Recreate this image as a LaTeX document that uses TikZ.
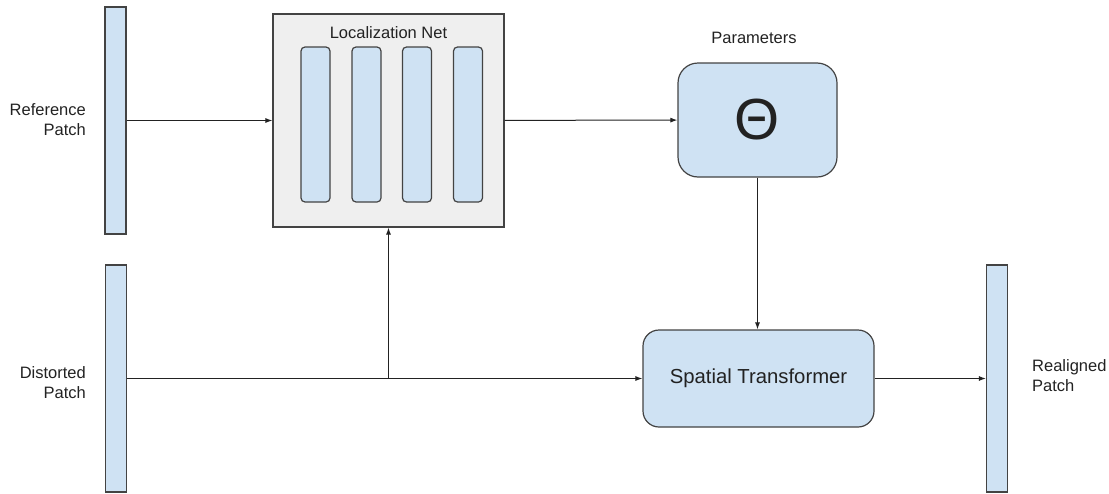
\documentclass[tikz,border=0pt]{standalone}
\usepackage{fontspec}
\setmainfont{Liberation Sans}
\usetikzlibrary{arrows.meta}
\definecolor{patchblue}{HTML}{CFE2F3}
\definecolor{netgray}{HTML}{EFEFEF}
\definecolor{edge}{HTML}{434343}
\definecolor{ink}{HTML}{222222}
\tikzset{
  patch/.style={draw=edge, fill=patchblue, line width=1.2pt, inner sep=0pt, minimum width=21pt, minimum height=227pt},
  layer/.style={draw=edge, fill=patchblue, line width=1.2pt, rounded corners=4pt, inner sep=0pt, minimum width=29pt, minimum height=155pt},
  netbox/.style={draw=edge, fill=netgray, line width=1.2pt, inner sep=0pt, minimum width=231pt, minimum height=213pt},
  block/.style={draw=edge, fill=patchblue, line width=1.2pt, inner sep=0pt, text=ink},
  lbl/.style={text=ink, font=\fontsize{16.5}{20}\selectfont, inner sep=0pt},
  arr/.style={draw=ink, line width=1pt, -{Latex[length=7pt,width=5pt]}},
  wire/.style={draw=ink, line width=1pt}
}
\begin{document}
\begin{tikzpicture}[x=1pt, y=-1pt]
\useasboundingbox (0,0) rectangle (1109,493);

% input and output patches
\node[patch] (ref)  at (115.5,120.5) {};
\node[patch] (dist) at (116,378.5) {};
\node[patch] (real) at (997,378.5) {};

% localization network with its four layers
\node[netbox] (loc) at (388.5,120.5) {};
\node[lbl] (loctitle) at (388.5,33) {Localization Net};
\node[layer] (l1) at (315.5,124.5) {};
\node[layer] (l2) at (366.5,124.5) {};
\node[layer] (l3) at (417,124.5) {};
\node[layer] (l4) at (468,124.5) {};

% transformation parameters
\node[lbl] (partitle) at (754,38) {Parameters};
\node[block, rounded corners=20pt, minimum width=159pt, minimum height=114pt,
      font=\fontsize{58}{60}\selectfont] (theta) at (757.5,120) {Θ};

% spatial transformer
\node[block, rounded corners=16pt, minimum width=231pt, minimum height=97pt,
      font=\fontsize{20.3}{24}\selectfont] (st) at (758.5,378.5) {Spatial Transformer};

% side labels
\node[lbl, anchor=east, align=right] (reflbl) at (86,120) {Reference\\Patch};
\node[lbl, anchor=east, align=right] (distlbl) at (86,383) {Distorted\\Patch};
\node[lbl, anchor=west, align=left] (reallbl) at (1032,376) {Realigned\\Patch};

% connectors
\coordinate (split) at (loc.south |- dist.east);
\draw[arr] (ref) -- (loc);
\draw[arr] (loc) -- (theta);
\draw[arr] (theta.south) -- (theta.south |- st.north);
\draw[arr] (dist) -- (st);
\draw[arr] (split) -- (loc.south);
\draw[arr] (st) -- (real);
\end{tikzpicture}
\end{document}
